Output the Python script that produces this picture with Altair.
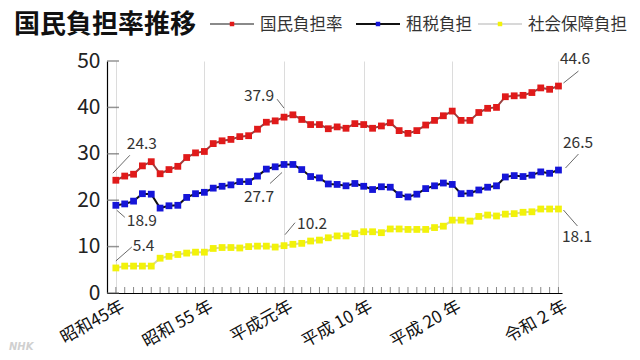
import altair as alt
import pandas as pd

# ---------------- data ----------------
years = list(range(1970, 2021))
burden = [24.3, 25.2, 25.6, 27.4, 28.3, 25.7, 26.6, 27.3, 29.2, 30.2,
          30.5, 32.2, 32.8, 33.1, 33.7, 33.9, 35.3, 36.8, 37.1, 37.9,
          38.4, 37.4, 36.3, 36.3, 35.4, 35.8, 35.5, 36.5, 36.3, 35.5,
          36.0, 36.7, 35.0, 34.4, 35.0, 36.2, 37.2, 38.2, 39.2, 37.2,
          37.2, 38.9, 39.8, 40.0, 42.3, 42.5, 42.6, 43.2, 44.2, 43.9,
          44.6]
tax = [18.9, 19.2, 19.8, 21.4, 21.3, 18.3, 18.8, 18.9, 20.6, 21.4,
       21.7, 22.6, 23.0, 23.3, 24.0, 24.0, 25.2, 26.7, 27.2, 27.7,
       27.7, 26.6, 25.1, 24.8, 23.5, 23.4, 23.1, 23.6, 23.0, 22.3,
       22.9, 22.8, 21.2, 20.7, 21.3, 22.5, 23.1, 23.7, 23.4, 21.4,
       21.5, 22.2, 22.8, 23.1, 25.0, 25.3, 25.1, 25.4, 26.1, 25.8,
       26.5]
social = [5.4, 5.8, 5.8, 5.8, 5.8, 7.5, 7.9, 8.3, 8.6, 8.8,
          8.8, 9.6, 9.8, 9.8, 9.7, 10.0, 10.1, 10.1, 9.9, 10.2,
          10.5, 10.7, 11.2, 11.4, 11.9, 12.3, 12.3, 12.8, 13.2, 13.2,
          13.0, 13.8, 13.8, 13.7, 13.7, 13.7, 14.1, 14.4, 15.7, 15.7,
          15.5, 16.5, 16.8, 16.6, 17.0, 17.1, 17.4, 17.5, 18.1, 18.1,
          18.1]
series_names = ["国民負担率", "租税負担", "社会保障負担"]
series_values = [burden, tax, social]
title_text = "国民負担率推移"
tick_years = [1970, 1980, 1989, 1998, 2008, 2020]
tick_labels = ["昭和45年", "昭和 55 年", "平成元年", "平成 10 年", "平成 20 年", "令和 2 年"]
y_ticks = [0, 10, 20, 30, 40, 50]

# ---------------- layout / style ----------------
W, H = 455, 232
FONT = "Noto Sans CJK JP"
square_colors = ["#e01a1a", "#1515d8", "#f2f20a"]
line_colors = ["#9a4040", "#111111", "#d6d6a0"]
legend_line_colors = ["#8a8a8a", "#111111", "#d8d8d8"]

rows = []
for name, vals in zip(series_names, series_values):
    for yr, v in zip(years, vals):
        rows.append({"year": yr, "value": v, "series": name})
df = pd.DataFrame(rows)

x_scale = alt.Scale(domain=[1969, 2020.4], nice=False, zero=False)
y_scale = alt.Scale(domain=[0, 50], nice=False)

expr = "''"
for yv, lab in reversed(list(zip(tick_years, tick_labels))):
    expr = f"datum.value == {yv} ? '{lab}' : ({expr})"

x_axis = alt.Axis(values=tick_years, grid=True, gridColor="#dcdcdc", gridWidth=1,
                  domainColor="#000000", domainWidth=1.2, ticks=False,
                  labelExpr=expr, labelAngle=-29, labelAlign="right",
                  labelBaseline="top", labelFontSize=17, labelFont=FONT,
                  labelColor="#111111", labelPadding=5, labelOffset=3,
                  labelOverlap=False, labelFlush=False, labelBound=False, title=None)
y_axis = alt.Axis(values=y_ticks, grid=False, ticks=False, domainColor="#000000",
                  domainWidth=1.2, labelFontSize=21, labelFont=FONT,
                  labelColor="#222222", labelPadding=7, title=None, labelFlush=False)


def X(field="year"):
    return alt.X(f"{field}:Q", scale=x_scale, axis=x_axis)


def Y(field="value"):
    return alt.Y(f"{field}:Q", scale=y_scale, axis=y_axis)


stroke_scale = alt.Scale(domain=series_names, range=line_colors)
fill_scale = alt.Scale(domain=series_names, range=square_colors)

lines = alt.Chart(df).mark_line(strokeWidth=2).encode(
    x=X(), y=Y(),
    stroke=alt.Stroke("series:N", scale=stroke_scale, legend=None),
    detail="series:N",
)
points = alt.Chart(df).mark_square(size=46, opacity=1, strokeWidth=0).encode(
    x=X(), y=Y(),
    fill=alt.Fill("series:N", scale=fill_scale, legend=None),
)

# year ticks (inward) on x axis, value ticks (inward) on y axis
xticks = alt.Chart(pd.DataFrame({"year": years})).mark_tick(
    orient="vertical", size=6, thickness=1, color="#555555").encode(
    x=X(), y=alt.value(H - 3))
yticks = alt.Chart(pd.DataFrame({"value": y_ticks})).mark_tick(
    orient="horizontal", size=12, thickness=1.5, color="#666666").encode(
    y=Y(), x=alt.value(6))

layers = [lines, xticks, yticks, points]

# annotations: (series index, year index, leader start, leader end, align, dx, dy)
annotations = [
    (0, 0, (-3, -7), (14, -25), "left", 11, -36),
    (1, 0, (1, 5), (9, 12), "left", 11, 16),
    (2, 0, (0, -7), (16, -21), "left", 17, -22),
    (0, 19, (-7, -18), (0, -9), "right", -10, -21),
    (1, 19, (-14, 19), (-2, 8), "right", -10, 33),
    (2, 19, (1, -11), (11, -23), "left", 13, -22),
    (0, 50, (5, -3), (20, -15), "left", 1.5, -27),
    (1, 50, (7, -2), (20, -16), "left", 4.5, -27),
    (2, 50, (5, 1), (19, 17), "left", 3.5, 28),
]
for si, yi, (sx, sy), (ex, ey), al, dx, dy in annotations:
    v = series_values[si][yi]
    adf = pd.DataFrame({"year": [years[yi]], "value": [v], "label": [f"{v:.1f}"]})
    lead = alt.Chart(adf).mark_rule(color="#444444", strokeWidth=0.8,
                                    xOffset=sx, yOffset=sy, x2Offset=ex, y2Offset=ey).encode(
        x=X(), y=Y(), x2="year:Q", y2="value:Q")
    txt = alt.Chart(adf).mark_text(align=al, baseline="middle", dx=dx, dy=dy,
                                   fontSize=15.5, font=FONT, color="#333333").encode(
        x=X(), y=Y(), text="label:N")
    layers += [lead, txt]

one = pd.DataFrame({"a": [0]})
# title
layers.append(alt.Chart(one).mark_text(align="left", baseline="middle", fontSize=26,
                                       fontWeight="bold", font=FONT, color="#111111").encode(
    x=alt.value(-93), y=alt.value(-36), text=alt.value(title_text)))

# legend
leg_x = [103, 249, 371]
leg_len = 44
for i, name in enumerate(series_names):
    x0 = leg_x[i]
    layers.append(alt.Chart(one).mark_rule(color=legend_line_colors[i], strokeWidth=2).encode(
        x=alt.value(x0), x2=alt.value(x0 + leg_len), y=alt.value(-37)))
    layers.append(alt.Chart(one).mark_square(size=20, color=square_colors[i], opacity=1).encode(
        x=alt.value(x0 + leg_len / 2), y=alt.value(-37)))
    layers.append(alt.Chart(one).mark_text(align="left", baseline="middle", fontSize=16.5,
                                           font=FONT, color="#333333").encode(
        x=alt.value(x0 + leg_len + 6), y=alt.value(-36), text=alt.value(name)))

# watermark
layers.append(alt.Chart(one).mark_text(align="left", baseline="alphabetic", fontSize=10,
                                       fontStyle="italic", fontWeight="bold",
                                       font="DejaVu Sans", color="#d0d0d0").encode(
    x=alt.value(-98), y=alt.value(289), text=alt.value("NHK")))

chart = alt.layer(*layers).properties(
    width=W, height=H,
    autosize=alt.AutoSizeParams(type="none"),
    padding={"left": 99, "top": 53, "right": 70, "bottom": 59},
    background="white",
).configure_view(stroke=None)

chart.save("out.html", embed_options={"renderer": "svg", "actions": False})
